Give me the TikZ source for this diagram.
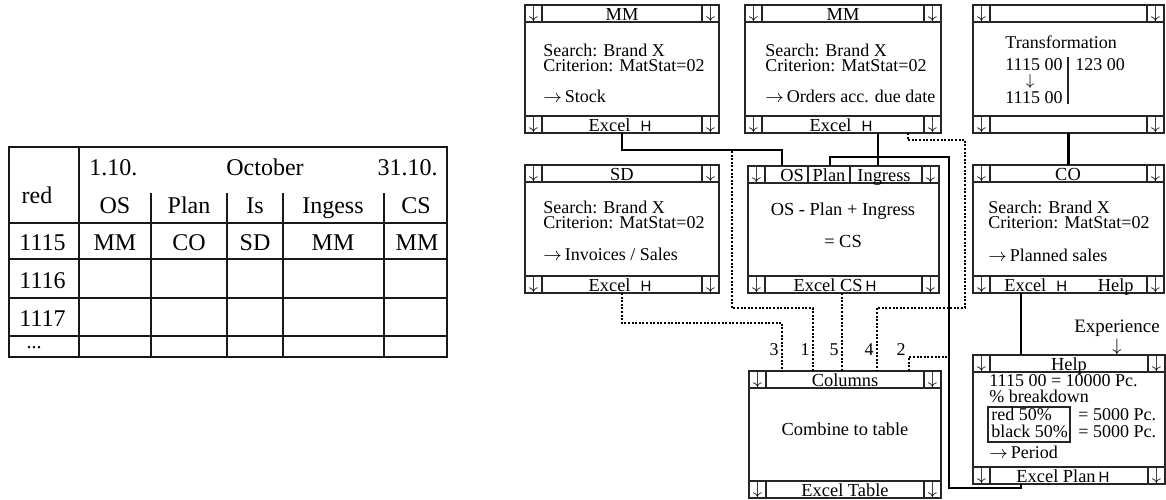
\documentclass[tikz,border=0pt]{standalone}
\usepackage{fontspec}
\setmainfont{Liberation Serif}
\setsansfont{Liberation Sans}
\usetikzlibrary{calc, positioning, fit}

\tikzset{
	winframe/.style={draw=black!85, line width=0.8pt, inner sep=0pt, outer sep=0pt},
	winline/.style={draw=black!85, line width=0.8pt},
	bartext/.style={inner sep=0pt, anchor=base, font=\fontsize{9.2}{9.2}\selectfont},
	arrowcell/.style={inner sep=0pt, font=\fontsize{9.5}{9.5}\selectfont},
	bodytext/.style={inner sep=0pt, anchor=base west, font=\fontsize{9}{9}\selectfont},
	tabtext/.style={inner sep=0pt, anchor=base, font=\fontsize{12}{12}\selectfont},
	link/.style={draw=black, line width=1.2pt},
	feed/.style={draw=black, line width=1.1pt, dash pattern=on 1pt off 0.8pt},
	tabthick/.style={draw=black!90, line width=1.1pt},
	tabthin/.style={draw=black!90, line width=0.55pt},
}

% small sans button glyph used in the window footers
\newcommand{\xbtn}{{\sffamily\fontsize{7.5}{7.5}\selectfont H}}

% window frame: name, left, top, right, bottom (in px units)
\newcommand{\appwin}[5]{%
	\node[winframe, fit={(#2,#3) (#4,#5)}] (#1) {};
	\draw[winline] (#2,#3+17) -- (#4,#3+17) (#2,#5-17) -- (#4,#5-17)
		(#2+17,#3) -- ++(0,17) (#4-17,#3) -- ++(0,17)
		(#2+17,#5) -- ++(0,-17) (#4-17,#5) -- ++(0,-17);
	\node[arrowcell] (#1-nw) at (#2+8.5,#3+8.5) {$\downarrow$};
	\node[arrowcell] (#1-ne) at (#4-8.5,#3+8.5) {$\downarrow$};
	\node[arrowcell] (#1-sw) at (#2+8.5,#5-8.5) {$\downarrow$};
	\node[arrowcell] (#1-se) at (#4-8.5,#5-8.5) {$\downarrow$};
}

\begin{document}
\begin{tikzpicture}[x=0.5pt, y=-0.5pt]
	\useasboundingbox (0,0) rectangle (1166,499);

	% result table
	\draw[tabthick] (9,147) rectangle (447,357);
	\draw[tabthick] (79,147) -- (79,357);
	\draw[tabthick] (9,223) -- (447,223);
	\foreach \yy in {259,298,336} {\draw[tabthin] (9,\yy) -- (447,\yy);}
	\foreach \xx in {151,227,283,384} {\draw[tabthin] (\xx,193) -- (\xx,357);}

	\node[tabtext] (t-red) at (37,203) {red};
	\node[tabtext, anchor=base west] (t-from) at (89,175) {1.10.};
	\node[tabtext] (t-month) at (265,175) {October};
	\node[tabtext, anchor=base east] (t-to) at (438,175) {31.10.};
	\node[tabtext] (t-os) at (115,213) {OS};
	\node[tabtext] (t-plan) at (189,213) {Plan};
	\node[tabtext] (t-is) at (255,213) {Is};
	\node[tabtext] (t-ing) at (333,213) {Ingess};
	\node[tabtext] (t-cs) at (416,213) {CS};
	\node[tabtext, anchor=base west] (t-r1) at (19,250) {1115};
	\node[tabtext, anchor=base west] (t-r2) at (19,288) {1116};
	\node[tabtext, anchor=base west] (t-r3) at (19,326) {1117};
	\node[tabtext, font=\fontsize{10}{10}\selectfont] (t-r4) at (34,348) {...};
	\node[tabtext] (t-s1) at (115,250) {MM};
	\node[tabtext] (t-s2) at (189,250) {CO};
	\node[tabtext] (t-s3) at (255,250) {SD};
	\node[tabtext] (t-s4) at (333,250) {MM};
	\node[tabtext] (t-s5) at (417,250) {MM};

	% windows
	\appwin{mm1}{525}{5}{719}{133}
	\appwin{mm2}{745}{5}{941}{133}
	\appwin{trans}{973}{5}{1164}{133}
	\appwin{sd}{525}{165}{719}{293}
	\appwin{cs}{748}{166}{939}{293}
	\appwin{co}{973}{165}{1164}{293}
	\appwin{cols}{749}{371}{941}{498}
	\appwin{help}{973}{355}{1165}{484}

	% MM stock
	\node[bartext] (mm1-head) at (622,20) {MM};
	\node[bartext] (mm1-foot) at (620,131) {Excel\hspace{5pt}\xbtn};
	\node[bodytext] (mm1-l1) at (543,56) {Search: Brand X};
	\node[bodytext] (mm1-l2) at (543,71) {Criterion: MatStat=02};
	\node[bodytext] (mm1-l3) at (543,102) {$\rightarrow$\,Stock};

	% MM orders
	\node[bartext] (mm2-head) at (843,20) {MM};
	\node[bartext] (mm2-foot) at (841,131) {Excel\hspace{5pt}\xbtn};
	\node[bodytext] (mm2-l1) at (765,56) {Search: Brand X};
	\node[bodytext] (mm2-l2) at (765,71) {Criterion: MatStat=02};
	\node[bodytext] (mm2-l3) at (765,102) {$\rightarrow$\,Orders acc. due date};

	% transformation
	\node[bodytext] (trans-l1) at (1005,48) {Transformation};
	\node[bodytext] (trans-l2) at (1005,70) {1115 00};
	\node[bodytext] (trans-l3) at (1075,70) {123 00};
	\node[arrowcell, font=\fontsize{8}{8}\selectfont] (trans-arr) at (1030,81) {$\downarrow$};
	\node[bodytext] (trans-l4) at (1005,103) {1115 00};
	\draw[winline] (1068,57) -- (1068,104);

	% SD
	\node[bartext] (sd-head) at (622,180) {SD};
	\node[bartext] (sd-foot) at (620,291) {Excel\hspace{5pt}\xbtn};
	\node[bodytext] (sd-l1) at (543,213) {Search: Brand X};
	\node[bodytext] (sd-l2) at (543,228) {Criterion: MatStat=02};
	\node[bodytext] (sd-l3) at (543,260) {$\rightarrow$\,Invoices / Sales};

	% closing stock
	\draw[winline] (808,166) -- (808,183) (850,166) -- (850,183);
	\node[bartext] (cs-h1) at (792,181) {OS};
	\node[bartext] (cs-h2) at (829,181) {Plan};
	\node[bartext] (cs-h3) at (884,181) {Ingress};
	\node[bartext] (cs-foot) at (835,291) {Excel CS\,\xbtn};
	\node[bartext] (cs-l1) at (843,215) {OS - Plan + Ingress};
	\node[bartext] (cs-l2) at (843,247) {= CS};

	% CO
	\node[bartext] (co-head) at (1068,180) {CO};
	\node[bartext, anchor=base west] (co-foot) at (1004,291) {Excel\hspace{5pt}\xbtn};
	\node[bartext, anchor=base east] (co-help) at (1134,291) {Help};
	\node[bodytext] (co-l1) at (988,213) {Search: Brand X};
	\node[bodytext] (co-l2) at (988,228) {Criterion: MatStat=02};
	\node[bodytext] (co-l3) at (988,261) {$\rightarrow$\,Planned sales};

	% columns
	\node[bartext] (cols-head) at (845,386) {Columns};
	\node[bartext] (cols-foot) at (845,496) {Excel Table};
	\node[bartext] (cols-l1) at (845,435) {Combine to table};

	% help
	\node[bartext] (help-head) at (1069,370) {Help};
	\node[bartext] (help-foot) at (1063,482) {Excel Plan\,\xbtn};
	\node[bodytext] (help-l1) at (989,386) {1115 00 = 10000 Pc.};
	\node[bodytext] (help-l2) at (989,402) {\% breakdown};
	\node[winframe, line width=0.6pt, fit={(988,407) (1070,442)}] (split) {};
	\node[bodytext] (help-l3) at (991,420) {red 50\%};
	\node[bodytext] (help-l4) at (991,437) {black 50\%};
	\node[bodytext] (help-l5) at (1078,420) {= 5000 Pc.};
	\node[bodytext] (help-l6) at (1078,437) {= 5000 Pc.};
	\node[bodytext] (help-l7) at (989,458) {$\rightarrow$\,Period};
	\node[bartext, font=\fontsize{9.5}{9.5}\selectfont] (exp) at (1117,332) {Experience};
	\node[arrowcell] (exp-arr) at (1117,347) {$\downarrow$};

	% pins
	\coordinate (cs-os) at ($(cs.north)+(-61.5,0)$);
	\coordinate (cs-plan) at ($(cs.north)+(-13.5,0)$);
	\coordinate (cs-ing) at ($(cs.north)+(34.5,0)$);
	\coordinate (cs-out) at ($(cs.south)+(-1.5,0)$);
	\coordinate (mm2-out) at ($(mm2.south)+(35,0)$);
	\coordinate (mm2-aux) at ($(mm2.south)+(65,0)$);
	\coordinate (help-out) at ($(help.south)+(-48,0)$);
	\coordinate (help-in) at ($(help.north)+(-48,0)$);
	\coordinate (co-out) at ($(co.south)+(-47.5,0)$);
	\coordinate (col-3) at ($(cols.north)+(-63,0)$);
	\coordinate (col-1) at ($(cols.north)+(-32,0)$);
	\coordinate (col-5) at ($(cols.north)+(-3,0)$);
	\coordinate (col-4) at ($(cols.north)+(32,0)$);
	\coordinate (col-2) at ($(cols.north)+(64,0)$);
	\coordinate (rail) at ($(mm2-out)+(71,24)$);

	% solid links
	\draw[link] (mm1.south) -- ++(0,17) coordinate (mm1-bend) -| (cs-os);
	\draw[link] (mm2-out) -- (cs-ing);
	\draw[link] (help-out) -- ++(0,4) -| (rail) -| (cs-plan);
	\draw[link] (trans.south) -- (co.north);
	\draw[link] (co-out) -- (help-in);

	% dotted feeds into the columns
	\draw[feed] ($(mm1-bend)+(110,1)$) -- ++(0,157) -| (col-1);
	\draw[feed] (sd.south) -- ++(0,30) -| (col-3);
	\draw[feed] (mm2-aux) -- ++(0,7) -| ($(co.west)+(-8,79)$) -| (col-4);
	\draw[feed] (cs-out) -- (col-5);
	\draw[feed] (col-2) -- ++(0,-14) coordinate (n2-bend) -- (n2-bend -| rail);

	\node[bodytext, anchor=base east] (n3) at (779,355) {3};
	\node[bodytext, anchor=base east] (n1) at (810,355) {1};
	\node[bodytext, anchor=base east] (n5) at (839,355) {5};
	\node[bodytext, anchor=base east] (n4) at (874,355) {4};
	\node[bodytext, anchor=base east] (n2) at (906,355) {2};
\end{tikzpicture}
\end{document}
